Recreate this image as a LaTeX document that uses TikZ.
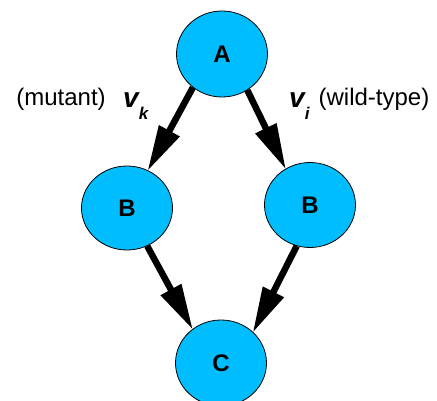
\documentclass[tikz,border=0pt]{standalone}
\usepackage{fontspec}
\setmainfont{Liberation Sans}
\usetikzlibrary{shapes.geometric,arrows.meta}
\definecolor{nodeblue}{RGB}{0,189,255}
\tikzset{
  state/.style={ellipse, draw=black, line width=0.8pt, fill=nodeblue, inner sep=0pt,
    minimum width=91pt, minimum height=86pt, font=\fontsize{24}{24}\selectfont\bfseries},
  flow/.style={line width=6.5pt, -{Triangle[length=46pt,width=22pt]}, shorten >=-1pt},
  lbl/.style={anchor=base, inner sep=0pt, font=\fontsize{24}{24}\selectfont},
  vlbl/.style={anchor=base west, inner sep=0pt}
}
\begin{document}
\begin{tikzpicture}[x=1pt,y=-1pt]
\useasboundingbox (0,0) rectangle (437,401);
\node[state] (A) at (222,54) {A};
\node[state, minimum height=84pt] (BL) at (127,208) {B};
\node[state, minimum height=85pt] (BR) at (310,205) {B};
\node[state] (C) at (221,363) {C};
\draw[flow] (A.229) -- (BL.61);
\draw[flow] (A.305) -- (BR.124);
\draw[flow] (BL.298) -- (C.130);
\draw[flow] (BR.252) -- (C.44);
\node[lbl] (mut) at (61,106) {(mutant)};
\node[lbl] (wt) at (374,106) {(wild-type)};
\node[vlbl] (vk) at (123,108) {\fontsize{28}{28}\selectfont\bfseries\itshape v\raisebox{-12pt}{\fontsize{17}{17}\selectfont k}};
\node[vlbl] (vi) at (289,108) {\fontsize{28}{28}\selectfont\bfseries\itshape v\raisebox{-12pt}{\fontsize{17}{17}\selectfont i}};
\end{tikzpicture}
\end{document}
